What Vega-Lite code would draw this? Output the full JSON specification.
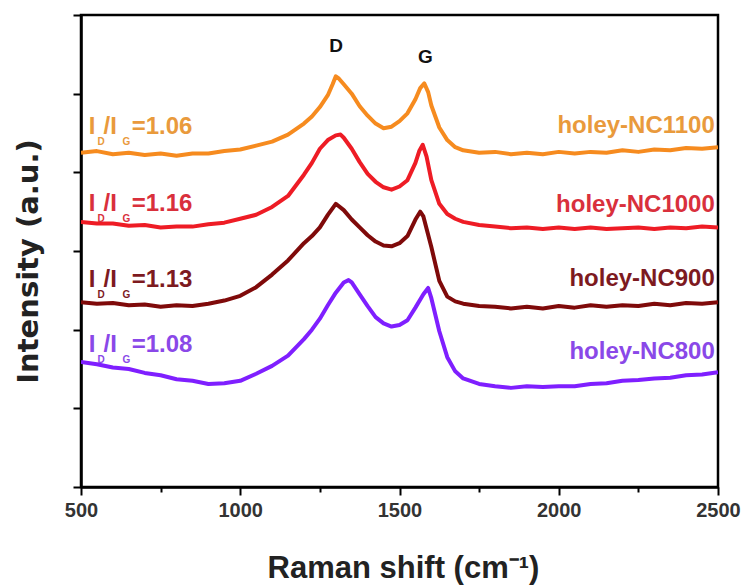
{
  "$schema": "https://vega.github.io/schema/vega-lite/v6.json",
  "width": 637,
  "height": 472,
  "autosize": {"type": "none"},
  "padding": {"left": 81, "top": 15, "right": 27, "bottom": 101},
  "background": "white",
  "config": {
    "view": {"stroke": "black", "strokeWidth": 2.5},
    "axis": {"grid": false, "domainColor": "black", "domainWidth": 2.5, "tickColor": "black", "tickWidth": 2}
  },
  "datasets": {
    "spec": [
      {"s":"NC1100","x":500,"y":4.25},{"s":"NC1100","x":550,"y":4.27},{"s":"NC1100","x":600,"y":4.23},{"s":"NC1100","x":650,"y":4.25},{"s":"NC1100","x":700,"y":4.22},{"s":"NC1100","x":750,"y":4.24},{"s":"NC1100","x":800,"y":4.21},{"s":"NC1100","x":850,"y":4.24},{"s":"NC1100","x":900,"y":4.24},{"s":"NC1100","x":950,"y":4.27},{"s":"NC1100","x":1000,"y":4.29},{"s":"NC1100","x":1050,"y":4.34},{"s":"NC1100","x":1100,"y":4.39},{"s":"NC1100","x":1150,"y":4.48},{"s":"NC1100","x":1200,"y":4.62},{"s":"NC1100","x":1225,"y":4.71},{"s":"NC1100","x":1250,"y":4.83},{"s":"NC1100","x":1275,"y":4.98},{"s":"NC1100","x":1290,"y":5.12},{"s":"NC1100","x":1300,"y":5.22},{"s":"NC1100","x":1310,"y":5.19},{"s":"NC1100","x":1325,"y":5.12},{"s":"NC1100","x":1350,"y":5.0},{"s":"NC1100","x":1375,"y":4.84},{"s":"NC1100","x":1400,"y":4.72},{"s":"NC1100","x":1425,"y":4.62},{"s":"NC1100","x":1450,"y":4.56},{"s":"NC1100","x":1475,"y":4.58},{"s":"NC1100","x":1500,"y":4.65},{"s":"NC1100","x":1525,"y":4.75},{"s":"NC1100","x":1550,"y":4.93},{"s":"NC1100","x":1565,"y":5.07},{"s":"NC1100","x":1578,"y":5.13},{"s":"NC1100","x":1590,"y":5.02},{"s":"NC1100","x":1600,"y":4.85},{"s":"NC1100","x":1625,"y":4.57},{"s":"NC1100","x":1650,"y":4.41},{"s":"NC1100","x":1675,"y":4.32},{"s":"NC1100","x":1700,"y":4.28},{"s":"NC1100","x":1750,"y":4.25},{"s":"NC1100","x":1800,"y":4.26},{"s":"NC1100","x":1850,"y":4.23},{"s":"NC1100","x":1900,"y":4.25},{"s":"NC1100","x":1950,"y":4.23},{"s":"NC1100","x":2000,"y":4.26},{"s":"NC1100","x":2050,"y":4.24},{"s":"NC1100","x":2100,"y":4.26},{"s":"NC1100","x":2150,"y":4.25},{"s":"NC1100","x":2200,"y":4.28},{"s":"NC1100","x":2250,"y":4.26},{"s":"NC1100","x":2300,"y":4.29},{"s":"NC1100","x":2350,"y":4.28},{"s":"NC1100","x":2400,"y":4.31},{"s":"NC1100","x":2450,"y":4.3},{"s":"NC1100","x":2500,"y":4.32},
      {"s":"NC1000","x":500,"y":3.37},{"s":"NC1000","x":550,"y":3.35},{"s":"NC1000","x":600,"y":3.35},{"s":"NC1000","x":650,"y":3.32},{"s":"NC1000","x":700,"y":3.33},{"s":"NC1000","x":750,"y":3.3},{"s":"NC1000","x":800,"y":3.31},{"s":"NC1000","x":850,"y":3.31},{"s":"NC1000","x":900,"y":3.34},{"s":"NC1000","x":950,"y":3.36},{"s":"NC1000","x":1000,"y":3.41},{"s":"NC1000","x":1050,"y":3.46},{"s":"NC1000","x":1100,"y":3.56},{"s":"NC1000","x":1150,"y":3.7},{"s":"NC1000","x":1200,"y":3.97},{"s":"NC1000","x":1225,"y":4.12},{"s":"NC1000","x":1250,"y":4.3},{"s":"NC1000","x":1275,"y":4.41},{"s":"NC1000","x":1300,"y":4.47},{"s":"NC1000","x":1315,"y":4.48},{"s":"NC1000","x":1325,"y":4.44},{"s":"NC1000","x":1350,"y":4.3},{"s":"NC1000","x":1375,"y":4.13},{"s":"NC1000","x":1400,"y":3.98},{"s":"NC1000","x":1425,"y":3.88},{"s":"NC1000","x":1450,"y":3.81},{"s":"NC1000","x":1475,"y":3.78},{"s":"NC1000","x":1500,"y":3.82},{"s":"NC1000","x":1525,"y":3.9},{"s":"NC1000","x":1550,"y":4.12},{"s":"NC1000","x":1562,"y":4.27},{"s":"NC1000","x":1573,"y":4.35},{"s":"NC1000","x":1585,"y":4.2},{"s":"NC1000","x":1600,"y":3.9},{"s":"NC1000","x":1625,"y":3.6},{"s":"NC1000","x":1650,"y":3.47},{"s":"NC1000","x":1675,"y":3.41},{"s":"NC1000","x":1700,"y":3.37},{"s":"NC1000","x":1750,"y":3.33},{"s":"NC1000","x":1800,"y":3.31},{"s":"NC1000","x":1850,"y":3.29},{"s":"NC1000","x":1900,"y":3.3},{"s":"NC1000","x":1950,"y":3.28},{"s":"NC1000","x":2000,"y":3.3},{"s":"NC1000","x":2050,"y":3.28},{"s":"NC1000","x":2100,"y":3.3},{"s":"NC1000","x":2150,"y":3.28},{"s":"NC1000","x":2200,"y":3.29},{"s":"NC1000","x":2250,"y":3.3},{"s":"NC1000","x":2300,"y":3.28},{"s":"NC1000","x":2350,"y":3.3},{"s":"NC1000","x":2400,"y":3.29},{"s":"NC1000","x":2450,"y":3.31},{"s":"NC1000","x":2500,"y":3.3},
      {"s":"NC900","x":500,"y":2.35},{"s":"NC900","x":550,"y":2.33},{"s":"NC900","x":600,"y":2.34},{"s":"NC900","x":650,"y":2.31},{"s":"NC900","x":700,"y":2.32},{"s":"NC900","x":750,"y":2.29},{"s":"NC900","x":800,"y":2.31},{"s":"NC900","x":850,"y":2.3},{"s":"NC900","x":900,"y":2.33},{"s":"NC900","x":950,"y":2.37},{"s":"NC900","x":1000,"y":2.43},{"s":"NC900","x":1050,"y":2.54},{"s":"NC900","x":1100,"y":2.7},{"s":"NC900","x":1150,"y":2.88},{"s":"NC900","x":1200,"y":3.1},{"s":"NC900","x":1225,"y":3.19},{"s":"NC900","x":1250,"y":3.3},{"s":"NC900","x":1275,"y":3.46},{"s":"NC900","x":1300,"y":3.6},{"s":"NC900","x":1325,"y":3.52},{"s":"NC900","x":1350,"y":3.4},{"s":"NC900","x":1375,"y":3.3},{"s":"NC900","x":1400,"y":3.2},{"s":"NC900","x":1425,"y":3.12},{"s":"NC900","x":1450,"y":3.07},{"s":"NC900","x":1475,"y":3.06},{"s":"NC900","x":1500,"y":3.1},{"s":"NC900","x":1525,"y":3.19},{"s":"NC900","x":1550,"y":3.4},{"s":"NC900","x":1565,"y":3.5},{"s":"NC900","x":1575,"y":3.44},{"s":"NC900","x":1600,"y":3.05},{"s":"NC900","x":1625,"y":2.62},{"s":"NC900","x":1650,"y":2.42},{"s":"NC900","x":1675,"y":2.36},{"s":"NC900","x":1700,"y":2.33},{"s":"NC900","x":1750,"y":2.3},{"s":"NC900","x":1800,"y":2.29},{"s":"NC900","x":1850,"y":2.27},{"s":"NC900","x":1900,"y":2.29},{"s":"NC900","x":1950,"y":2.27},{"s":"NC900","x":2000,"y":2.3},{"s":"NC900","x":2050,"y":2.28},{"s":"NC900","x":2100,"y":2.31},{"s":"NC900","x":2150,"y":2.29},{"s":"NC900","x":2200,"y":2.31},{"s":"NC900","x":2250,"y":2.3},{"s":"NC900","x":2300,"y":2.33},{"s":"NC900","x":2350,"y":2.31},{"s":"NC900","x":2400,"y":2.34},{"s":"NC900","x":2450,"y":2.33},{"s":"NC900","x":2500,"y":2.35},
      {"s":"NC800","x":500,"y":1.59},{"s":"NC800","x":550,"y":1.56},{"s":"NC800","x":600,"y":1.52},{"s":"NC800","x":650,"y":1.5},{"s":"NC800","x":700,"y":1.45},{"s":"NC800","x":750,"y":1.42},{"s":"NC800","x":800,"y":1.37},{"s":"NC800","x":850,"y":1.35},{"s":"NC800","x":900,"y":1.31},{"s":"NC800","x":950,"y":1.32},{"s":"NC800","x":1000,"y":1.35},{"s":"NC800","x":1050,"y":1.44},{"s":"NC800","x":1100,"y":1.54},{"s":"NC800","x":1150,"y":1.67},{"s":"NC800","x":1200,"y":1.88},{"s":"NC800","x":1225,"y":2.0},{"s":"NC800","x":1250,"y":2.14},{"s":"NC800","x":1275,"y":2.31},{"s":"NC800","x":1300,"y":2.47},{"s":"NC800","x":1325,"y":2.6},{"s":"NC800","x":1340,"y":2.63},{"s":"NC800","x":1350,"y":2.6},{"s":"NC800","x":1375,"y":2.45},{"s":"NC800","x":1400,"y":2.3},{"s":"NC800","x":1425,"y":2.16},{"s":"NC800","x":1450,"y":2.08},{"s":"NC800","x":1475,"y":2.04},{"s":"NC800","x":1500,"y":2.06},{"s":"NC800","x":1525,"y":2.12},{"s":"NC800","x":1550,"y":2.28},{"s":"NC800","x":1575,"y":2.45},{"s":"NC800","x":1590,"y":2.53},{"s":"NC800","x":1600,"y":2.4},{"s":"NC800","x":1625,"y":1.98},{"s":"NC800","x":1650,"y":1.65},{"s":"NC800","x":1675,"y":1.47},{"s":"NC800","x":1700,"y":1.38},{"s":"NC800","x":1750,"y":1.31},{"s":"NC800","x":1800,"y":1.28},{"s":"NC800","x":1850,"y":1.26},{"s":"NC800","x":1900,"y":1.28},{"s":"NC800","x":1950,"y":1.27},{"s":"NC800","x":2000,"y":1.28},{"s":"NC800","x":2050,"y":1.28},{"s":"NC800","x":2100,"y":1.31},{"s":"NC800","x":2150,"y":1.32},{"s":"NC800","x":2200,"y":1.35},{"s":"NC800","x":2250,"y":1.36},{"s":"NC800","x":2300,"y":1.38},{"s":"NC800","x":2350,"y":1.39},{"s":"NC800","x":2400,"y":1.42},{"s":"NC800","x":2450,"y":1.43},{"s":"NC800","x":2500,"y":1.46}
    ],
    "names": [
      {"s":"NC1100","t":"holey-NC1100","x":2490,"y":4.59},
      {"s":"NC1000","t":"holey-NC1000","x":2490,"y":3.585},
      {"s":"NC900","t":"holey-NC900","x":2490,"y":2.65},
      {"s":"NC800","t":"holey-NC800","x":2490,"y":1.716}
    ],
    "ratio": [
      {"s":"NC1100","t":"I","x":524,"y":4.58},{"s":"NC1100","t":"/I","x":571,"y":4.58},{"s":"NC1100","t":"=1.06","x":659,"y":4.58},
      {"s":"NC1000","t":"I","x":524,"y":3.6},{"s":"NC1000","t":"/I","x":571,"y":3.6},{"s":"NC1000","t":"=1.16","x":659,"y":3.6},
      {"s":"NC900","t":"I","x":524,"y":2.63},{"s":"NC900","t":"/I","x":571,"y":2.63},{"s":"NC900","t":"=1.13","x":659,"y":2.63},
      {"s":"NC800","t":"I","x":524,"y":1.805},{"s":"NC800","t":"/I","x":571,"y":1.805},{"s":"NC800","t":"=1.08","x":659,"y":1.805}
    ],
    "subs": [
      {"s":"NC1100","t":"D","x":552,"y":4.58},{"s":"NC1100","t":"G","x":630,"y":4.58},
      {"s":"NC1000","t":"D","x":552,"y":3.6},{"s":"NC1000","t":"G","x":630,"y":3.6},
      {"s":"NC900","t":"D","x":552,"y":2.63},{"s":"NC900","t":"G","x":630,"y":2.63},
      {"s":"NC800","t":"D","x":552,"y":1.805},{"s":"NC800","t":"G","x":630,"y":1.805}
    ],
    "peaks": [
      {"t":"D","x":1301,"y":5.6},
      {"t":"G","x":1581,"y":5.47}
    ]
  },
  "resolve": {"scale": {"color": "independent"}},
  "layer": [
    {
      "data": {"name": "spec"},
      "mark": {"type": "line", "strokeWidth": 4, "strokeJoin": "round", "clip": true},
      "encoding": {
        "x": {
          "field": "x", "type": "quantitative",
          "scale": {"domain": [500, 2500], "nice": false, "zero": false},
          "axis": {
            "values": [500, 750, 1000, 1250, 1500, 1750, 2000, 2250, 2500],
            "format": "d",
            "labelExpr": "datum.value % 500 === 0 ? datum.label : ''",
            "tickSize": {"condition": {"test": "datum.value % 500 === 0", "value": 8}, "value": 5},
            "labelFont": "Liberation Sans", "labelFontWeight": "bold", "labelFontSize": 20, "labelColor": "#333333", "labelPadding": 5,
            "labelFlush": false, "labelOverlap": false,
            "title": "Raman shift (cm⁻¹)",
            "titleFont": "Liberation Sans", "titleFontWeight": "bold", "titleFontSize": 31, "titleColor": "#222222",
            "titleX": 322, "titleY": 90, "titleBaseline": "alphabetic", "titleAlign": "center"
          }
        },
        "y": {
          "field": "y", "type": "quantitative",
          "scale": {"domain": [0, 6], "nice": false, "zero": false},
          "axis": {
            "values": [0, 1, 2, 3, 4, 5, 6], "labels": false, "tickSize": 8,
            "title": "Intensity (a.u.)",
            "titleFont": "DejaVu Sans", "titleFontWeight": "bold", "titleFontSize": 29, "titleColor": "#222222",
            "titleX": -44, "titleY": 246, "titleBaseline": "alphabetic", "titleAlign": "center", "titleAngle": -90
          }
        },
        "color": {
          "field": "s", "type": "nominal",
          "scale": {"domain": ["NC1100", "NC1000", "NC900", "NC800"], "range": ["#F68B1F", "#EE1C25", "#7F0A0A", "#7F1FFF"]},
          "legend": null
        }
      }
    },
    {
      "data": {"name": "names"},
      "mark": {"type": "text", "align": "right", "baseline": "middle", "font": "Liberation Sans", "fontWeight": "bold", "fontSize": 24},
      "encoding": {
        "x": {"field": "x", "type": "quantitative"},
        "y": {"field": "y", "type": "quantitative"},
        "text": {"field": "t"},
        "color": {
          "field": "s", "type": "nominal",
          "scale": {"domain": ["NC1100", "NC1000", "NC900", "NC800"], "range": ["#E99A3C", "#D9303C", "#7D1A1F", "#8A48E8"]},
          "legend": null
        }
      }
    },
    {
      "data": {"name": "ratio"},
      "mark": {"type": "text", "align": "left", "baseline": "middle", "font": "Liberation Sans", "fontWeight": "bold", "fontSize": 24},
      "encoding": {
        "x": {"field": "x", "type": "quantitative"},
        "y": {"field": "y", "type": "quantitative"},
        "text": {"field": "t"},
        "color": {
          "field": "s", "type": "nominal",
          "scale": {"domain": ["NC1100", "NC1000", "NC900", "NC800"], "range": ["#E99A3C", "#D9303C", "#7D1A1F", "#8A48E8"]},
          "legend": null
        }
      }
    },
    {
      "data": {"name": "subs"},
      "mark": {"type": "text", "align": "left", "baseline": "middle", "font": "Liberation Sans", "fontWeight": "bold", "fontSize": 10, "dy": 15},
      "encoding": {
        "x": {"field": "x", "type": "quantitative"},
        "y": {"field": "y", "type": "quantitative"},
        "text": {"field": "t"},
        "color": {
          "field": "s", "type": "nominal",
          "scale": {"domain": ["NC1100", "NC1000", "NC900", "NC800"], "range": ["#E99A3C", "#D9303C", "#7D1A1F", "#8A48E8"]},
          "legend": null
        }
      }
    },
    {
      "data": {"name": "peaks"},
      "mark": {"type": "text", "align": "center", "baseline": "middle", "font": "Liberation Sans", "fontWeight": "bold", "fontSize": 19, "color": "#111111"},
      "encoding": {
        "x": {"field": "x", "type": "quantitative"},
        "y": {"field": "y", "type": "quantitative"},
        "text": {"field": "t"}
      }
    }
  ]
}
